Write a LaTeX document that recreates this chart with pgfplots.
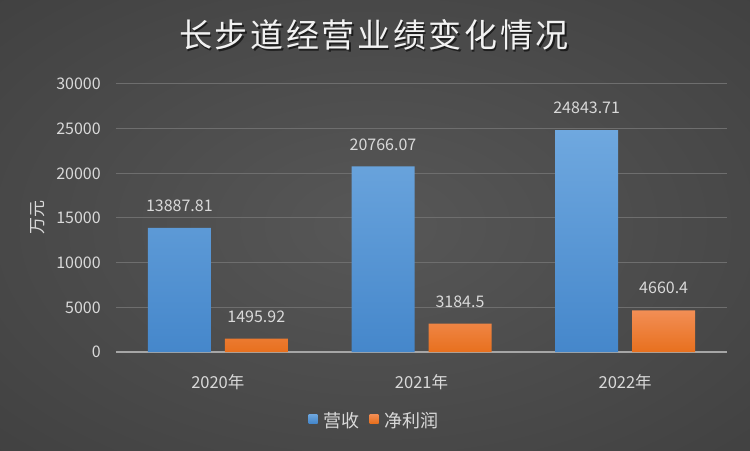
\documentclass[border=0pt]{standalone}
\usepackage{fontspec}
\setmainfont{Noto Sans CJK SC}
\usepackage{pgfplots}
\pgfplotsset{compat=1.18}
\definecolor{bginner}{HTML}{575757}
\definecolor{bgouter}{HTML}{2B2B2B}
\definecolor{txt}{HTML}{D9D9D9}
\definecolor{gridc}{HTML}{6E6E6E}
\definecolor{axc}{HTML}{A6A6A6}
\definecolor{blueT}{HTML}{6FA8DF}
\definecolor{blueB}{HTML}{4587CB}
\definecolor{orT}{HTML}{F28E55}
\definecolor{orB}{HTML}{E8701E}
\pgfdeclareradialshading{bgshade}{\pgfpoint{0bp}{0bp}}{color(0bp)=(bginner); color(72bp)=(bgouter)}
\begin{document}
\begin{tikzpicture}
\shade[shading=bgshade] (-116bp,-99bp) rectangle (634bp,352bp);
\begin{axis}[
  at={(0,0)}, anchor=south west,
  scale only axis, width=611bp, height=268bp,
  xmin=-0.5, xmax=2.5, ymin=0, ymax=30000,
  ytick={0,5000,...,30000},
  scaled y ticks=false,
  xtick={0,1,2}, xticklabels={2020年,2021年,2022年},
  axis lines=left, axis line style={-},
  y axis line style={draw=none},
  x axis line style={draw=axc, line width=1.5bp},
  tick style={draw=none},
  ymajorgrids=true, major grid style={draw=gridc, line width=1bp},
  ybar=14bp, bar width=63bp,
  tick label style={font=\fontsize{16bp}{19bp}\selectfont, text=txt},
  xticklabel style={font=\fontsize{16.5bp}{19bp}\selectfont},
  /pgf/number format/assume math mode=true,
  /pgf/number format/set thousands separator={},
  yticklabel style={inner sep=0pt, xshift=-13bp},
  xticklabel style={anchor=center, inner sep=0pt, yshift=-26bp},
  ylabel={万元},
  every axis y label/.style={at={(axis description cs:-0.1285,0.5)}, anchor=center, rotate=90, font=\fontsize{17bp}{20bp}\selectfont, text=txt},
  point meta=explicit symbolic,
  nodes near coords,
  every node near coord/.append style={font=\fontsize{16bp}{19bp}\selectfont, text=txt, inner sep=0pt, anchor=south, yshift=16bp},
  legend columns=2,
  legend style={at={(axis description cs:0.4216,-0.2575)}, anchor=center, draw=none, fill=none, text=txt,
    font=\fontsize{18bp}{21bp}\selectfont, nodes={inner sep=0pt},
    /tikz/every odd column/.append style={column sep=6bp},
    /tikz/every even column/.append style={column sep=10bp}},
  legend image code/.code={\fill[#1] (0bp,-2bp) rectangle (9bp,7bp);},
]
\addplot[draw=none, top color=blueT, bottom color=blueB] coordinates {(0,13887.81) [13887.81] (1,20766.07) [20766.07] (2,24843.71) [24843.71]};
\addplot[draw=none, top color=orT, bottom color=orB] coordinates {(0,1495.92) [1495.92] (1,3184.5) [3184.5] (2,4660.4) [4660.4]};
\legend{营收,净利润}
\end{axis}
\node[font=\fontsize{33bp}{38bp}\selectfont\addfontfeature{LetterSpace=8}, text=black, opacity=0.6] at (259.5bp,315.5bp) {长步道经营业绩变化情况};
\node[font=\fontsize{33bp}{38bp}\selectfont\addfontfeature{LetterSpace=8}, text=white!95!black] at (258bp,317bp) {长步道经营业绩变化情况};
\pgfresetboundingbox
\useasboundingbox (-116bp,-99bp) rectangle (634bp,352bp);
\end{tikzpicture}
\end{document}
